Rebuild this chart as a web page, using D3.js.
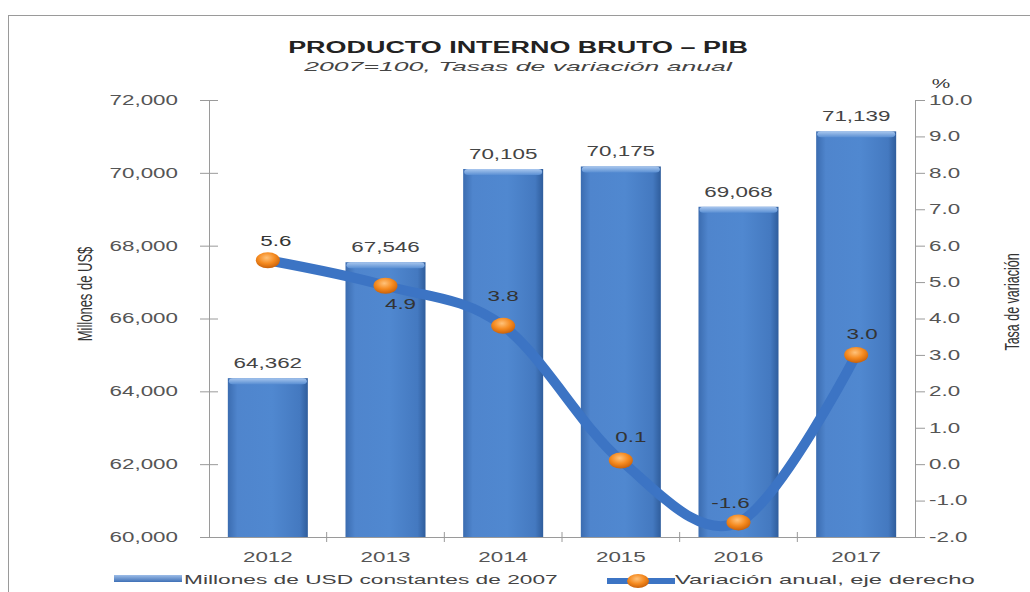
<!DOCTYPE html>
<html>
<head>
<meta charset="utf-8">
<script src="https://cdn.jsdelivr.net/npm/d3@7"></script>
<style>
  body { margin: 0; background: #fff; }
  svg { display: block; font-family: "Liberation Sans", Arial, sans-serif; }
</style>
</head>
<body>
<svg id="chart" width="1030" height="592"></svg>
<script>
// data
const years = ['2012', '2013', '2014', '2015', '2016', '2017'];
const gdp = [64362, 67546, 70105, 70175, 69068, 71139];
const growth = [5.6, 4.9, 3.8, 0.1, -1.6, 3.0];
const leftTicks = [60000, 62000, 64000, 66000, 68000, 70000, 72000];
const rightTicks = [-2, -1, 0, 1, 2, 3, 4, 5, 6, 7, 8, 9, 10];

const titleText = 'PRODUCTO INTERNO BRUTO \u2013 PIB';
const subtitleText = '2007=100, Tasas de variaci\u00f3n anual';
const leftTitle = 'Millones de US$';
const rightTitle = 'Tasa de variaci\u00f3n';
const barLegend = 'Millones de USD constantes de 2007';
const lineLegend = 'Variaci\u00f3n anual,  eje derecho';

// label placement for the growth values (style only)
const growthLabelOffset = [[8, -19], [15, 18], [0, -30], [10, -23], [-8, -19], [6, -21]];

const svg = d3.select('#chart');
const SX = 1.6; // the original picture is stretched sideways
const textCol = '#555';

const plotLeft = 209, plotRight = 915, plotTop = 100, plotBottom = 537;

const loc = d3.formatLocale({ decimal: '.', thousands: ',', grouping: [3], currency: ['$', ''], minus: '-' });
const fmtK = loc.format(',');
const fmt1 = loc.format('.1f');

// scales
const x = d3.scaleBand().domain(years).range([plotLeft, plotRight]).paddingInner(0.32).paddingOuter(0.16);
const yL = d3.scaleLinear().domain([60000, 72000]).range([plotBottom, plotTop]);
const yR = d3.scaleLinear().domain([-2, 10]).range([plotBottom, plotTop]);

// helpers
function label(parent, str, px, py, opt = {}) {
  const t = parent.append('text')
    .text(str)
    .attr('font-size', opt.size || 14)
    .attr('font-weight', opt.weight || null)
    .attr('font-style', opt.style || null)
    .attr('fill', opt.fill || textCol)
    .attr('text-anchor', opt.anchor || 'middle')
    .attr('dominant-baseline', 'central');
  let sx = opt.sx || SX;
  if (opt.width) sx = opt.width / t.node().getComputedTextLength();
  t.attr('transform', `translate(${px},${py}) scale(${sx},1)`);
  return t;
}

// defs
const defs = svg.append('defs');
const barGrad = defs.append('linearGradient').attr('id', 'barGrad').attr('x1', 0).attr('x2', 1).attr('y1', 0).attr('y2', 0);
barGrad.append('stop').attr('offset', '0%').attr('stop-color', '#3b6cb0');
barGrad.append('stop').attr('offset', '12%').attr('stop-color', '#4f85cd');
barGrad.append('stop').attr('offset', '55%').attr('stop-color', '#5088d0');
barGrad.append('stop').attr('offset', '90%').attr('stop-color', '#4479c0');
barGrad.append('stop').attr('offset', '100%').attr('stop-color', '#2f5d9c');

const capGrad = defs.append('linearGradient').attr('id', 'capGrad').attr('x1', 0).attr('x2', 0).attr('y1', 0).attr('y2', 1);
capGrad.append('stop').attr('offset', '0%').attr('stop-color', '#a9c7ee');
capGrad.append('stop').attr('offset', '100%').attr('stop-color', '#5a8fd3');

const dotGrad = defs.append('radialGradient').attr('id', 'dotGrad').attr('cx', '45%').attr('cy', '35%').attr('r', '65%');
dotGrad.append('stop').attr('offset', '0%').attr('stop-color', '#ffc27a');
dotGrad.append('stop').attr('offset', '55%').attr('stop-color', '#f58a1f');
dotGrad.append('stop').attr('offset', '100%').attr('stop-color', '#c9610a');

const legGrad = defs.append('linearGradient').attr('id', 'legGrad').attr('x1', 0).attr('x2', 0).attr('y1', 0).attr('y2', 1);
legGrad.append('stop').attr('offset', '0%').attr('stop-color', '#9dbde8');
legGrad.append('stop').attr('offset', '100%').attr('stop-color', '#3e70b6');

// frame
svg.append('rect')
  .attr('x', 8.5).attr('y', 15.5).attr('width', 1030).attr('height', 600)
  .attr('fill', 'none').attr('stroke', '#9a9a9a').attr('stroke-width', 1);

// titles
label(svg, titleText, 518, 48, { size: 16, weight: 'bold', fill: '#222', width: 460 });
label(svg, subtitleText, 518, 66, { size: 13, style: 'italic', fill: '#444', width: 428 });
label(svg, '%', 941, 84, { size: 13, fill: '#333' });

// bars
const bars = svg.append('g').attr('class', 'bars');
bars.selectAll('rect.bar')
  .data(gdp)
  .enter()
  .append('rect')
  .attr('class', 'bar')
  .attr('x', (d, i) => x(years[i]))
  .attr('y', d => yL(d))
  .attr('width', x.bandwidth())
  .attr('height', d => yL(60000) - yL(d))
  .attr('fill', 'url(#barGrad)');

bars.selectAll('rect.cap')
  .data(gdp)
  .enter()
  .append('rect')
  .attr('class', 'cap')
  .attr('x', (d, i) => x(years[i]) + 1)
  .attr('y', d => yL(d))
  .attr('width', x.bandwidth() - 2)
  .attr('height', 6)
  .attr('rx', 4).attr('ry', 3)
  .attr('fill', 'url(#capGrad)');

gdp.forEach((d, i) => {
  label(bars, fmtK(d), x(years[i]) + x.bandwidth() / 2, yL(d) - 15, { fill: '#444' });
});

// left axis
const gL = svg.append('g').attr('transform', `translate(${plotLeft},0)`)
  .call(d3.axisLeft(yL).tickValues(leftTicks).tickSize(0).tickFormat(''));
gL.select('.domain').attr('stroke', '#9a9a9a');
gL.selectAll('.tick line').attr('x1', -9).attr('x2', 9).attr('stroke', '#9a9a9a');
leftTicks.forEach(v => label(svg, fmtK(v), 178, yL(v), { anchor: 'end' }));

// right axis
const gR = svg.append('g').attr('transform', `translate(${plotRight},0)`)
  .call(d3.axisRight(yR).tickValues(rightTicks).tickSize(10).tickFormat(''));
gR.select('.domain').attr('stroke', '#9a9a9a');
gR.selectAll('.tick line').attr('stroke', '#9a9a9a');
rightTicks.forEach(v => label(svg, fmt1(v), 929, yR(v), { anchor: 'start' }));

// x axis
const gX = svg.append('g').attr('transform', `translate(0,${plotBottom})`)
  .call(d3.axisBottom(x).tickSize(0).tickFormat(''));
gX.select('.domain').attr('stroke', '#9a9a9a');
const gap = x.step() * x.paddingInner() / 2;
gX.selectAll('.sep')
  .data(years.slice(1))
  .enter()
  .append('line')
  .attr('x1', d => x(d) - gap).attr('x2', d => x(d) - gap)
  .attr('y1', -5).attr('y2', 5)
  .attr('stroke', '#9a9a9a');
years.forEach(yr => label(svg, yr, x(yr) + x.bandwidth() / 2, 557));

// axis titles (rotated, narrow look)
svg.append('text')
  .text(leftTitle)
  .attr('font-size', 13).attr('fill', '#333')
  .attr('text-anchor', 'middle').attr('dominant-baseline', 'central')
  .attr('transform', `translate(85,294) scale(${SX},1) rotate(-90)`);
svg.append('text')
  .text(rightTitle)
  .attr('font-size', 12.5).attr('fill', '#333')
  .attr('text-anchor', 'middle').attr('dominant-baseline', 'central')
  .attr('transform', `translate(1012,302) scale(${SX},1) rotate(-90)`);

// growth line
const pts = growth.map((v, i) => [x(years[i]) + x.bandwidth() / 2, yR(v)]);
const line = d3.line().curve(d3.curveCatmullRom.alpha(0));
svg.append('path')
  .attr('d', line(pts))
  .attr('fill', 'none')
  .attr('stroke', '#3c74c4')
  .attr('stroke-width', 10)
  .attr('stroke-linecap', 'round')
  .attr('stroke-linejoin', 'round');

svg.selectAll('ellipse.dot')
  .data(pts)
  .enter()
  .append('ellipse')
  .attr('class', 'dot')
  .attr('cx', d => d[0]).attr('cy', d => d[1])
  .attr('rx', 12).attr('ry', 8)
  .attr('fill', 'url(#dotGrad)');

growth.forEach((v, i) => {
  const o = growthLabelOffset[i];
  label(svg, fmt1(v), pts[i][0] + o[0], pts[i][1] + o[1], { fill: '#333' });
});

// legend
const leg = svg.append('g');
leg.append('rect')
  .attr('x', 114).attr('y', 575).attr('width', 68).attr('height', 7)
  .attr('fill', 'url(#legGrad)');
label(leg, barLegend, 184, 579, { anchor: 'start', size: 13, fill: '#444', width: 374 });

leg.append('line')
  .attr('x1', 607).attr('x2', 675).attr('y1', 581).attr('y2', 581)
  .attr('stroke', '#3c74c4').attr('stroke-width', 6);
leg.append('ellipse')
  .attr('cx', 638).attr('cy', 581).attr('rx', 11).attr('ry', 7)
  .attr('fill', 'url(#dotGrad)');
label(leg, lineLegend, 675, 580, { anchor: 'start', size: 13, fill: '#444', width: 300 });
</script>
</body>
</html>
